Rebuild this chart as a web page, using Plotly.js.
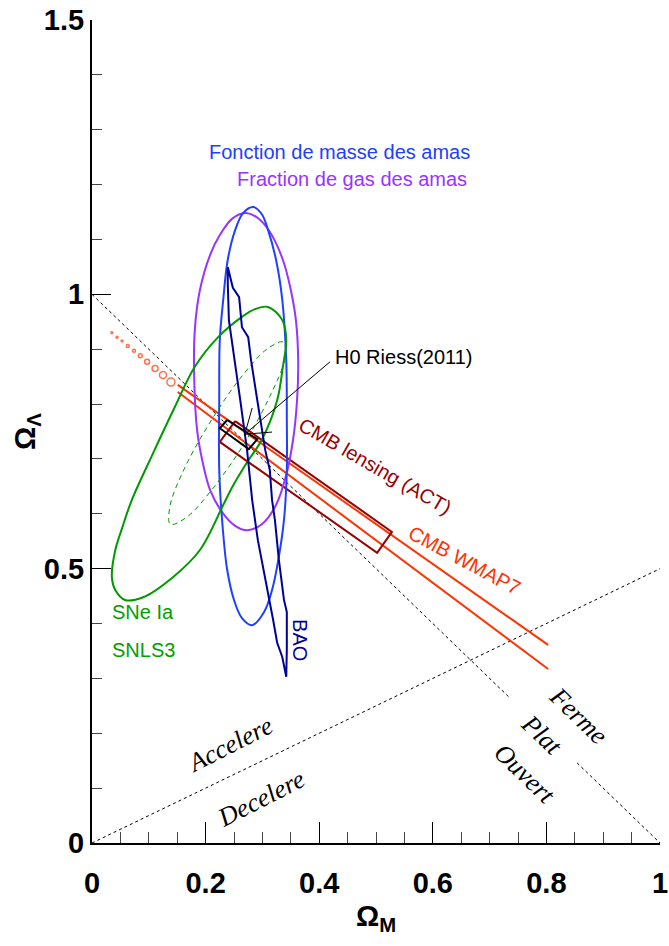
<!DOCTYPE html>
<html>
<head>
<meta charset="utf-8">
<script src="https://cdn.plot.ly/plotly-3.0.1.min.js"></script>
<style>html,body{margin:0;padding:0;background:#fff;}#chart{width:669px;height:946px;}</style>
</head>
<body>
<div id="chart"></div>
<script>
// ---- Data (Omega_M, Omega_Lambda) ----
const xTicks = [0, 0.2, 0.4, 0.6, 0.8, 1];
const yTicks = [0, 0.5, 1, 1.5];

// reference lines
const flatX = [0, 0.736, null, 0.854, 1];
const flatY = [1, 0.264, null, 0.146, 0];
const accX = [0, 1];
const accY = [0, 0.5];

// Fraction de gas des amas (purple)
const gasX = [0.273,0.292,0.313,0.336,0.350,0.359,0.363,0.361,0.354,0.342,0.324,0.299,0.273,0.252,0.229,0.208,0.194,0.185,0.180,0.181,0.190,0.208,0.225,0.248,0.273];
const gasY = [1.148,1.139,1.114,1.063,1.008,0.953,0.880,0.807,0.735,0.671,0.616,0.581,0.570,0.578,0.603,0.643,0.698,0.753,0.844,0.935,1.008,1.072,1.108,1.139,1.148];

// Fonction de masse des amas (blue)
const massX = [0.284,0.299,0.310,0.324,0.335,0.342,0.343,0.343,0.338,0.328,0.317,0.303,0.282,0.264,0.250,0.238,0.229,0.224,0.224,0.225,0.231,0.239,0.252,0.266,0.284];
const massY = [1.159,1.146,1.117,1.063,0.990,0.880,0.771,0.680,0.589,0.516,0.461,0.421,0.397,0.410,0.443,0.498,0.589,0.680,0.807,0.917,0.990,1.063,1.117,1.148,1.159];

// BAO (navy)
const baoX = [0.239,0.248,0.259,0.264,0.275,0.280,0.291,0.305,0.313,0.317,0.322,0.329,0.338,0.343,0.343,0.342,0.335,0.326,0.319,0.305,0.292,0.282,0.273,0.261,0.248,0.241,0.239,0.239];
const baoY = [1.050,1.012,0.995,0.940,0.922,0.880,0.807,0.716,0.680,0.625,0.589,0.516,0.443,0.421,0.352,0.303,0.339,0.365,0.406,0.479,0.552,0.625,0.716,0.807,0.899,0.953,1.021,1.050];

// SNe Ia SNLS3 (green, solid)
const snX = [0.310,0.335,0.342,0.336,0.326,0.299,0.273,0.247,0.231,0.190,0.143,0.090,0.058,0.041,0.035,0.041,0.053,0.070,0.106,0.146,0.181,0.222,0.264,0.287,0.310];
const snY = [0.977,0.953,0.917,0.868,0.807,0.735,0.694,0.649,0.616,0.534,0.485,0.448,0.443,0.461,0.485,0.534,0.574,0.625,0.707,0.795,0.868,0.922,0.959,0.973,0.977];

// SNe Ia inner contour (green, dashed)
const sn2X = [0.337,0.339,0.313,0.268,0.214,0.167,0.138,0.137,0.162,0.208,0.261,0.309,0.337];
const sn2Y = [0.913,0.881,0.814,0.728,0.648,0.594,0.581,0.613,0.681,0.767,0.847,0.901,0.913];

// CMB WMAP7 (orange) band edges
const wmapX = [0.151, 0.803, null, 0.151, 0.803];
const wmapY = [0.835, 0.361, null, 0.822, 0.317];
// WMAP7 contour fragments at the upper-left end
const wmapDotX = [0.035,0.044,0.053,0.063,0.074,0.085,0.097,0.111,0.125,0.139];
const wmapDotY = [0.930,0.922,0.915,0.906,0.897,0.888,0.877,0.865,0.853,0.840];
const wmapDotSize = [2,2,2,3,3,4,5,6,7,8];

// CMB lensing (ACT) box (dark red)
const actX = [0.252,0.528,0.502,0.225,0.252];
const actY = [0.769,0.567,0.529,0.731,0.769];

// H0 Riess(2011) box (black)
const h0X = [0.238,0.291,0.276,0.225,0.238];
const h0Y = [0.771,0.736,0.718,0.756,0.771];
// H0 arrow
const arrowX = [0.419,0.269,null,0.282,0.269,0.317];
const arrowY = [0.877,0.745,null,0.793,0.745,0.749];

const traces = [];
function line(x, y, color, width, opts) {
  const t = {x: x, y: y, mode: 'lines', type: 'scatter', hoverinfo: 'skip', showlegend: false,
    line: Object.assign({color: color, width: width}, opts || {})};
  traces.push(t);
}
line(flatX, flatY, '#000', 1, {dash: '3px,3px'});
line(accX, accY, '#000', 1, {dash: '3px,3px'});
line(wmapX, wmapY, '#ff3300', 2);
traces.push({x: wmapDotX, y: wmapDotY, mode: 'markers', type: 'scatter', hoverinfo: 'skip', showlegend: false,
  marker: {symbol: 'circle-open', size: wmapDotSize, color: '#ff3300', line: {color: '#ff3300', width: 1.5}}});
line(actX, actY, '#990000', 2);
line(gasX, gasY, '#9933ff', 2, {shape: 'spline', smoothing: 1});
line(massX, massY, '#2040ff', 2, {shape: 'spline', smoothing: 1});
line(snX, snY, '#009900', 2, {shape: 'spline', smoothing: 1});
line(sn2X, sn2Y, '#009900', 1, {shape: 'spline', smoothing: 1, dash: '5px,4px'});
line(baoX, baoY, '#000099', 2);
line(h0X, h0Y, '#000', 2);
line(arrowX, arrowY, '#000', 1);

const sans = 'Liberation Sans, Arial, sans-serif';
const serif = 'Liberation Serif, Times New Roman, serif';
function ann(text, x, y, color, size, angle, family, extra) {
  const a = {text: text, x: x, y: y, xref: 'x', yref: 'y', showarrow: false,
    textangle: angle || 0, font: {family: family || sans, size: size, color: color}};
  if (family === serif) a.font.style = 'italic';
  return Object.assign(a, extra || {});
}
const annotations = [
  ann('Fonction de masse des amas', 0.436, 1.259, '#2040ff', 20),
  ann('Fraction de gas des amas', 0.457, 1.210, '#9933ff', 20),
  ann('H0 Riess(2011)', 0.424, 0.886, '#000', 20, 0, sans, {xanchor: 'left'}),
  ann('CMB lensing (ACT)', 0.498, 0.687, '#990000', 20, 30),
  ann('CMB WMAP7', 0.655, 0.516, '#ff3300', 20, 28),
  ann('SNe Ia', 0.032, 0.421, '#00a000', 20, 0, sans, {xanchor: 'left'}),
  ann('SNLS3', 0.032, 0.352, '#00a000', 20, 0, sans, {xanchor: 'left'}),
  ann('BAO', 0.366, 0.370, '#000099', 20, 90),
  ann('Accelere', 0.243, 0.179, '#000', 26, -27, serif),
  ann('Decelere', 0.298, 0.082, '#000', 26, -27, serif),
  ann('Ferme', 0.856, 0.232, '#000', 26, 44, serif),
  ann('Plat', 0.791, 0.197, '#000', 26, 44, serif),
  ann('Ouvert', 0.761, 0.126, '#000', 26, 44, serif)
];

const tickFont = {family: sans, size: 29, color: '#000', weight: 'bold'};
const layout = {
  width: 669, height: 946,
  margin: {l: 92, r: 9, t: 20, b: 103},
  paper_bgcolor: '#fff', plot_bgcolor: '#fff',
  showlegend: false,
  xaxis: {
    range: [0, 1], tickvals: xTicks, ticktext: xTicks.map(String),
    showline: true, linecolor: '#000', linewidth: 2, mirror: false,
    ticks: 'inside', ticklen: 21, tickwidth: 1, tickcolor: '#000',
    minor: {dtick: 0.05, tick0: 0, ticks: 'inside', ticklen: 11, tickwidth: 1, tickcolor: '#444'},
    showgrid: false, zeroline: false, tickfont: tickFont, ticklabelstandoff: 13,
    title: {text: 'Ω<sub>M</sub>', font: {family: sans, size: 29, color: '#000', weight: 'bold'}, standoff: 8},
    fixedrange: true
  },
  yaxis: {
    range: [0, 1.5], tickvals: yTicks, ticktext: yTicks.map(String),
    showline: true, linecolor: '#000', linewidth: 2, mirror: false,
    ticks: 'inside', ticklen: 19, tickwidth: 1, tickcolor: '#000',
    minor: {dtick: 0.1, tick0: 0, ticks: 'inside', ticklen: 10, tickwidth: 1, tickcolor: '#444'},
    showgrid: false, zeroline: false, tickfont: tickFont,
    title: {text: 'Ω<sub>Λ</sub>', font: {family: sans, size: 29, color: '#000', weight: 'bold'}, standoff: 0},
    fixedrange: true
  },
  annotations: annotations
};
Plotly.newPlot('chart', traces, layout, {staticPlot: true, displayModeBar: false});
</script>
</body>
</html>
